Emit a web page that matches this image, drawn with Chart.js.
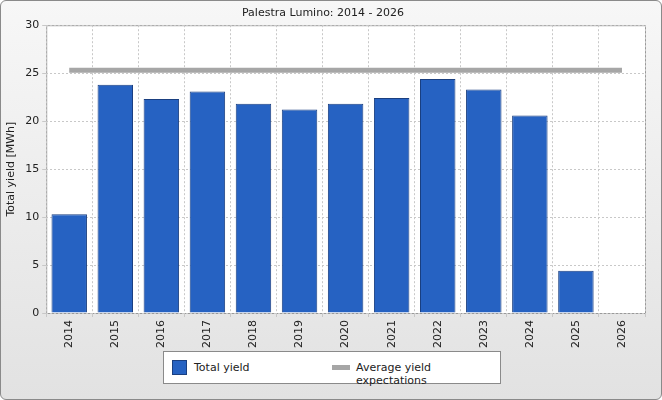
<!DOCTYPE html>
<html><head>
<script src="https://cdn.jsdelivr.net/npm/chart.js@4"></script>
<style>
body{margin:0;font-family:"DejaVu Sans",sans-serif;}
#wrap{position:relative;width:660px;height:398px;border:1px solid #8a8a8a;border-radius:6px;
 background:linear-gradient(#f7f7f7,#e2e2e2);overflow:hidden;}
#c{position:absolute;left:0;top:0;}
#legend{position:absolute;left:162px;top:350px;width:336px;height:31px;background:#fff;border:1px solid #8a8a8a;
 font-size:11px;color:#222;}
.sw1{position:absolute;left:8px;top:8px;width:15px;height:15px;background:#2662c2;border:1px solid #1a3f80;box-sizing:border-box;}
.t1{position:absolute;left:30px;top:9px;}
.sw2{position:absolute;left:168px;top:13px;width:18px;height:5px;background:#a6a6a6;}
.t2{position:absolute;left:192px;top:9px;}
</style></head>
<body>
<div id="wrap">
<canvas id="c" width="660" height="350"></canvas>
<div id="legend"><div class="sw1"></div><span class="t1">Total yield</span><div class="sw2"></div><span class="t2">Average yield expectations</span></div>
</div>
<script>
const years = ['2014','2015','2016','2017','2018','2019','2020','2021','2022','2023','2024','2025','2026'];
const totalYield = [10.3, 23.8, 22.3, 23.1, 21.8, 21.2, 21.8, 22.4, 24.4, 23.3, 20.6, 4.4, null];
const avgExpect = [25.3, 25.3, 25.3, 25.3, 25.3, 25.3, 25.3, 25.3, 25.3, 25.3, 25.3, 25.3, 25.3];

const areaBg = {
    id: 'areaBg',
    beforeDraw(chart) {
        const a = chart.chartArea, ctx = chart.ctx;
        ctx.save();
        ctx.fillStyle = '#fff';
        ctx.fillRect(a.left, a.top, a.right - a.left, a.bottom - a.top);
        ctx.strokeStyle = '#999';
        ctx.strokeRect(a.left + 0.5, a.top + 0.5, a.right - a.left, a.bottom - a.top);
        ctx.restore();
    }
};

new Chart(document.getElementById('c'), {
    data: {
        labels: years,
        datasets: [{
            type: 'line',
            data: avgExpect,
            borderColor: '#a6a6a6',
            borderWidth: 5,
            pointRadius: 0,
            order: 0
        }, {
            type: 'bar',
            data: totalYield,
            backgroundColor: '#2662c2',
            borderColor: '#1a3f80',
            borderWidth: 1,
            categoryPercentage: 0.77,
            barPercentage: 1,
            order: 1
        }]
    },
    options: {
        responsive: false,
        animation: false,
        layout: { padding: { left: 0, right: 16, top: 0, bottom: 0 } },
        plugins: {
            legend: { display: false },
            tooltip: { enabled: false },
            title: {
                display: true,
                text: 'Palestra Lumino: 2014 - 2026',
                color: '#222',
                font: { family: 'DejaVu Sans', size: 11, weight: 'normal' },
                padding: { top: 6, bottom: 5 }
            }
        },
        scales: {
            x: {
                grid: { color: '#c8c8c8', tickLength: 4, borderDash: [2, 2] },
                border: { dash: [2, 2], display: false },
                ticks: { color: '#222', maxRotation: 90, minRotation: 90, font: { family: 'DejaVu Sans', size: 11 } }
            },
            y: {
                min: 0, max: 30,
                grid: { color: '#c8c8c8', tickLength: 4 },
                border: { dash: [2, 2], display: false },
                ticks: { stepSize: 5, color: '#222', font: { family: 'DejaVu Sans', size: 11 } },
                title: { display: true, text: 'Total yield [MWh]', color: '#222', font: { family: 'DejaVu Sans', size: 11 } }
            }
        }
    },
    plugins: [areaBg]
});
</script>
</body></html>
